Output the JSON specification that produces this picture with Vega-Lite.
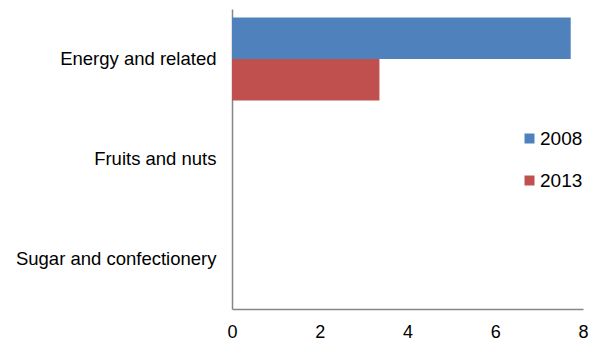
{
  "$schema": "https://vega.github.io/schema/vega-lite/v6.json",
  "width": 351,
  "height": 300,
  "autosize": {"type": "none"},
  "padding": {"left": 232, "top": 9, "right": 14, "bottom": 34},
  "background": "white",
  "config": {
    "view": {"stroke": null},
    "font": "Liberation Sans"
  },
  "data": {
    "values": [
      {"category": "Energy and related", "year": "2008", "value": 7.72},
      {"category": "Energy and related", "year": "2013", "value": 3.36},
      {"category": "Fruits and nuts", "year": "2008", "value": 0},
      {"category": "Fruits and nuts", "year": "2013", "value": 0},
      {"category": "Sugar and confectionery", "year": "2008", "value": 0},
      {"category": "Sugar and confectionery", "year": "2013", "value": 0}
    ]
  },
  "mark": {"type": "bar"},
  "encoding": {
    "y": {
      "field": "category",
      "type": "nominal",
      "sort": ["Energy and related", "Fruits and nuts", "Sugar and confectionery"],
      "scale": {"paddingInner": 0.17, "paddingOuter": 0.085},
      "axis": {
        "title": null,
        "ticks": false,
        "domainColor": "#868686",
        "domainWidth": 1.5,
        "labelFontSize": 18.5,
        "labelColor": "#000000",
        "labelPadding": 16,
        "labelLimit": 0,
        "labelFont": "Liberation Sans"
      }
    },
    "yOffset": {"field": "year", "type": "nominal", "sort": ["2008", "2013"]},
    "x": {
      "field": "value",
      "type": "quantitative",
      "scale": {"domain": [0, 8], "nice": false},
      "axis": {
        "title": null,
        "values": [0, 2, 4, 6, 8],
        "grid": false,
        "ticks": false,
        "domainColor": "#868686",
        "domainWidth": 1.5,
        "labelFontSize": 18,
        "labelColor": "#000000",
        "labelPadding": 14,
        "labelFont": "Liberation Sans",
        "labelFlush": false
      }
    },
    "color": {
      "field": "year",
      "type": "nominal",
      "scale": {"domain": ["2008", "2013"], "range": ["#4F81BD", "#C0504D"]},
      "legend": {
        "title": null,
        "orient": "none",
        "legendX": 288,
        "legendY": 120,
        "symbolType": "square",
        "symbolSize": 100,
        "symbolStrokeWidth": 0,
        "labelFontSize": 19,
        "labelColor": "#000000",
        "labelFont": "Liberation Sans",
        "labelOffset": 1,
        "rowPadding": 22,
        "padding": 0
      }
    }
  }
}
